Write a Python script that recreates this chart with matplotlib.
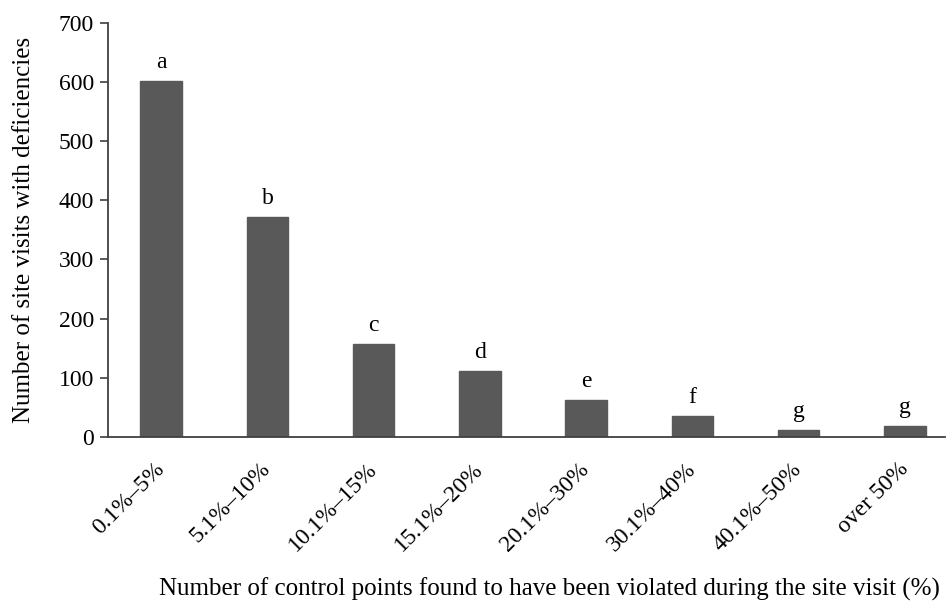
import matplotlib
matplotlib.use("Agg")
import matplotlib.pyplot as plt

categories = ["0.1%–5%", "5.1%–10%", "10.1%–15%", "15.1%–20%", "20.1%–30%",
              "30.1%–40%", "40.1%–50%", "over 50%"]
values = [602, 371, 157, 112, 63, 35, 12, 18]
letters = ["a", "b", "c", "d", "e", "f", "g", "g"]
yticks = [0, 100, 200, 300, 400, 500, 600, 700]

plt.rcParams['font.family'] = ['Liberation Serif', 'DejaVu Serif']

fig = plt.figure(figsize=(9.5, 6.01), dpi=100)
ax = fig.add_axes([0.1137, 0.2729, 0.881, 0.6893])
x = list(range(len(categories)))
ax.bar(x, values, width=0.39, color="#595959", edgecolor="#595959", zorder=2)
for xi, v, l in zip(x, values, letters):
    ax.text(xi, v + 22, l, ha="center", va="baseline", fontsize=17)
ax.set_xlim(-0.5, 7.376)
ax.set_ylim(0, 700)
ax.set_yticks(yticks)
ax.set_yticklabels([str(t) for t in yticks], fontsize=17)
ax.set_xticks(x)
ax.set_xticklabels(categories, rotation=45, ha="right", va="center",
                   rotation_mode="anchor", fontsize=17)
ax.tick_params(axis="x", length=0, pad=21)
ax.tick_params(axis="y", length=6, direction="out", width=1.2, color="#404040", pad=4)
for s in ["top", "right"]:
    ax.spines[s].set_visible(False)
for s in ["left", "bottom"]:
    ax.spines[s].set_color("#404040")
    ax.spines[s].set_linewidth(1.3)
ax.set_ylabel("Number of site visits with deficiencies", fontsize=18)
ax.yaxis.set_label_coords(-0.087, 0.5)
ax.set_xlabel("Number of control points found to have been violated during the site visit (%)",
              fontsize=18)
ax.xaxis.set_label_coords(0.528, -0.34)
fig.savefig("out.png", dpi=100)
